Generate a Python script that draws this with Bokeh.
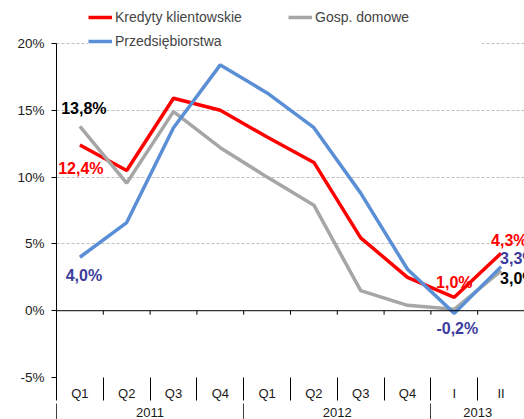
from bokeh.plotting import figure
from bokeh.models import (Range1d, FixedTicker, LinearAxis, PrintfTickFormatter,
                          Span, Legend, LegendItem, Label)
from bokeh.embed import file_html
from bokeh.resources import INLINE

# ---- data ----
quarters = ["Q1", "Q2", "Q3", "Q4", "Q1", "Q2", "Q3", "Q4", "I", "II"]
years = ["2011", "2012", "2013"]
year_spans = [4, 4, 2]
kredyty = [12.4, 10.5, 15.9, 15.0, 13.0, 11.1, 5.45, 2.5, 1.0, 4.3]
gosp = [13.8, 9.55, 14.9, 12.2, 10.0, 7.9, 1.5, 0.4, 0.1, 3.0]
przeds = [4.0, 6.6, 13.7, 18.4, 16.3, 13.7, 8.8, 3.1, -0.2, 3.3]
y_ticks = [-5, 0, 5, 10, 15, 20]
series_names = ["Kredyty klientowskie", "Gosp. domowe", "Przedsiębiorstwa"]

RED = "#FF0000"
GRAY = "#A6A6A6"
BLUE = "#5A8FD6"
LBLUE = "#3C3C9C"
FONT = "Liberation Sans"

n = len(quarters)
xs = [i + 0.5 for i in range(n)]
bounds = list(range(n))

p = figure(width=524, height=419, output_backend="svg", toolbar_location=None,
           x_range=Range1d(0, n), y_range=Range1d(-5, 23.22),
           min_border_left=56, min_border_right=0, min_border_top=0,
           min_border_bottom=42)
p.outline_line_color = None
p.xgrid.visible = False
p.ygrid.ticker = FixedTicker(ticks=[t for t in y_ticks if t > 0])
p.ygrid.grid_line_color = "#BFBFBF"
p.ygrid.grid_line_dash = "3 2"

# y axis
ya = p.yaxis[0]
ya.ticker = FixedTicker(ticks=y_ticks)
ya.formatter = PrintfTickFormatter(format="%d%%")
ya.bounds = (y_ticks[0], y_ticks[-1])
ya.major_tick_out = 5
ya.major_tick_in = 0
ya.minor_tick_out = 0
ya.minor_tick_in = 0
ya.axis_line_color = "black"
ya.major_tick_line_color = "black"
ya.major_label_standoff = 7
ya.major_label_text_font = FONT
ya.major_label_text_font_size = "13.5px"
ya.major_label_text_color = "#1a1a1a"

# quarter axis
xa = p.xaxis[0]
xa.ticker = FixedTicker(ticks=xs, minor_ticks=bounds)
xa.major_label_overrides = {x: q for x, q in zip(xs, quarters)}
xa.major_tick_out = 0
xa.major_tick_in = 0
xa.minor_tick_out = 23
xa.minor_tick_in = 0
xa.minor_tick_line_color = "black"
xa.axis_line_color = None
xa.major_label_standoff = -15
xa.major_label_text_font = FONT
xa.major_label_text_font_size = "13px"
xa.major_label_text_color = "#1a1a1a"

# year axis
starts, centers = [], []
acc = 0
for s in year_spans:
    starts.append(acc)
    centers.append(acc + s / 2)
    acc += s
ya2 = LinearAxis(ticker=FixedTicker(ticks=centers, minor_ticks=starts),
                 major_label_overrides={c: y for c, y in zip(centers, years)})
ya2.major_tick_out = 0
ya2.major_tick_in = 0
ya2.minor_tick_out = 19
ya2.minor_tick_in = 0
ya2.minor_tick_line_color = "#404040"
ya2.axis_line_color = None
ya2.major_label_standoff = -15
ya2.major_label_text_font = FONT
ya2.major_label_text_font_size = "13px"
ya2.major_label_text_color = "#1a1a1a"
p.add_layout(ya2, "below")

# zero line with small ticks
p.add_layout(Span(location=0, dimension="width", line_color="black", line_width=1))
p.segment(x0=bounds[1:], y0=[0] * (n - 1), x1=bounds[1:], y1=[-0.3] * (n - 1),
          line_color="black", line_width=1)

# series
r1 = p.line(xs, kredyty, line_color=RED, line_width=3.5)
r2 = p.line(xs, gosp, line_color=GRAY, line_width=3.5)
r3 = p.line(xs, przeds, line_color=BLUE, line_width=3.5)

# legend filled column by column: col 1 = Kredyty, Przedsiębiorstwa; col 2 = Gosp.
legend = Legend(items=[LegendItem(label=series_names[0], renderers=[r1]),
                       LegendItem(label=series_names[2], renderers=[r3]),
                       LegendItem(label=series_names[1], renderers=[r2])],
                location=(32, 327), ncols=2)
legend.background_fill_color = "white"
legend.background_fill_alpha = 1
legend.border_line_color = None
legend.label_text_font = FONT
legend.label_text_font_size = "14px"
legend.glyph_width = 24
legend.glyph_height = 18
legend.label_height = 18
legend.label_width = 167
legend.spacing = 6
legend.padding = 0
legend.margin = 0
legend.label_standoff = 3
p.add_layout(legend)

# data labels
def fmt(v):
    return ("%.1f%%" % v).replace(".", ",")

label_specs = [
    (gosp, 0, "black", 4, 18, "center"),
    (kredyty, 0, RED, 1, -23, "center"),
    (przeds, 0, LBLUE, 4, -18, "center"),
    (kredyty, 8, RED, 0, 15, "center"),
    (przeds, 8, LBLUE, 3, -15, "center"),
    (kredyty, 9, RED, -10, 13, "left"),
    (przeds, 9, LBLUE, -1, 8, "left"),
    (gosp, 9, "black", -1, -8, "left"),
]
for ser, i, col, dx, dy, al in label_specs:
    p.add_layout(Label(x=xs[i], y=ser[i], text=fmt(ser[i]), x_offset=dx, y_offset=dy,
                       text_align=al, text_baseline="middle", text_color=col,
                       text_font=FONT, text_font_size="16px", text_font_style="bold"))

open("out.html", "w").write(file_html(p, INLINE))
